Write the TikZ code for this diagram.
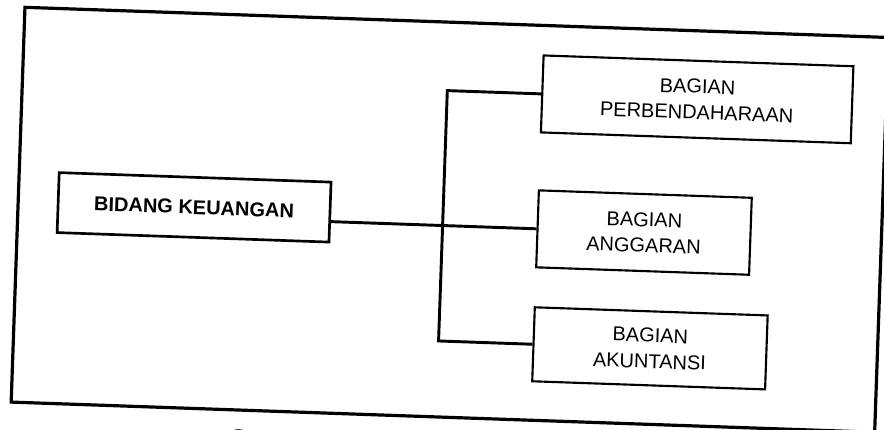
\documentclass[tikz,border=0pt]{standalone}
\usepackage{fontspec}
\setmainfont{Liberation Sans}
\begin{document}
\begin{tikzpicture}[x=0.75pt,y=-0.75pt,
  box/.style={draw, line width=1.6pt, inner sep=0pt, align=center,
    font=\fontsize{15}{19.5}\selectfont},
  conn/.style={line width=2.2pt},
  outerframe/.style={line width=2.4pt}]
\useasboundingbox (0,0) rectangle (884,429);
\begin{scope}[rotate around={-2:(442,214)}, transform shape]
  \draw[outerframe] (18,22) rectangle (882,417);
  \node[box, line width=2pt, minimum width=204pt, minimum height=45pt,
        font=\fontsize{15}{19.5}\selectfont\bfseries] (bidang) at (194,216) {BIDANG KEUANGAN};
  \node[box, minimum width=232.5pt, minimum height=57.75pt] (perb) at (693,90.5) {BAGIAN\\PERBENDAHARAAN};
  \node[box, minimum width=159.75pt, minimum height=57.75pt] (angg) at (644.5,225.5) {BAGIAN\\ANGGARAN};
  \node[box, minimum width=174.75pt, minimum height=55.5pt] (akun) at (654.5,341) {BAGIAN\\AKUNTANSI};
  \coordinate (busx) at (443,0);
  \draw[conn] (angg.west) -- (angg.west -| bidang.east);
  \draw[conn] (perb.west) -| (busx |- akun.west) -- (akun.west);
  \node[anchor=base west, inner sep=0pt, font=\fontsize{19.5}{23}\selectfont] (cap) at (236,455) {Gambar};
\end{scope}
\end{tikzpicture}
\end{document}
